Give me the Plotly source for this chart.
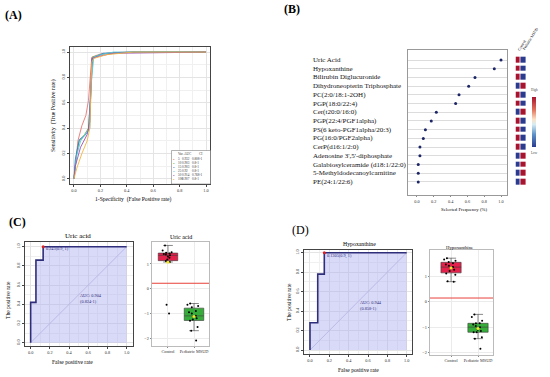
import numpy as np
import plotly.graph_objects as go

W, H = 550, 377
def px(x):
    return x / W
def py(y):
    return 1 - y / H

SERIF = "Liberation Serif"

# ---------------- Data ----------------
# Panel A: ROC curves of models built with different numbers of variables
roc_vars = ['5', '10', '15', '25', '50', '100']
roc_auc = ['0.932', '0.903', '0.903', '0.92', '0.914', '0.907']
roc_ci = ['0.808-1', '0.8-1', '0.8-1', '0.8-1', '0.768-1', '0.8-1']
roc_colors = ['#e8766f', '#62b84a', '#3b78c9', '#55c6d8', '#a04fb0', '#f2b440']
fpr_5 = [0, 0.01, 0.03, 0.06, 0.09, 0.11, 0.125, 0.135, 0.16, 0.2, 0.3, 0.4, 1]
tpr_5 = [0, 0.1, 0.3, 0.42, 0.5, 0.62, 0.8, 0.96, 0.97, 0.985, 0.995, 1, 1]
fpr_10 = [0, 0.02, 0.04, 0.08, 0.11, 0.13, 0.14, 0.2, 0.25, 0.45, 1]
tpr_10 = [0, 0.2, 0.3, 0.35, 0.4, 0.7, 0.96, 0.98, 0.99, 1, 1]
fpr_15 = [0, 0.01, 0.04, 0.08, 0.11, 0.125, 0.14, 0.18, 0.22, 0.45, 1]
tpr_15 = [0, 0.15, 0.31, 0.34, 0.38, 0.7, 0.95, 0.97, 0.99, 1, 1]
fpr_25 = [0, 0.02, 0.05, 0.09, 0.12, 0.13, 0.15, 0.2, 0.3, 1]
tpr_25 = [0, 0.18, 0.3, 0.36, 0.4, 0.75, 0.96, 0.98, 1, 1]
fpr_50 = [0, 0.01, 0.05, 0.1, 0.12, 0.135, 0.2, 0.3, 1]
tpr_50 = [0, 0.1, 0.25, 0.35, 0.45, 0.95, 0.97, 0.99, 1]
fpr_100 = [0, 0.02, 0.06, 0.1, 0.12, 0.135, 0.15, 0.25, 0.45, 1]
tpr_100 = [0, 0.08, 0.2, 0.3, 0.4, 0.92, 0.95, 0.98, 1, 1]
roc_fprs = [fpr_5, fpr_10, fpr_15, fpr_25, fpr_50, fpr_100]
roc_tprs = [tpr_5, tpr_10, tpr_15, tpr_25, tpr_50, tpr_100]

# Panel B: selected frequency of metabolites + group heatmap
metabolites = ['Uric Acid', 'Hypoxanthine', 'Bilirubin Diglucuronide',
               'Dihydroneopterin Triphosphate', 'PC(2:0/18:1-2OH)', 'PGP(18:0/22:4)',
               'Cer(t20:0/16:0)', 'PGP(22:4/PGF1alpha)', 'PS(6 keto-PGF1alpha/20:3)',
               'PG(16:0/PGF2alpha)', 'CerP(d16:1/2:0)', "Adenosine 3',5'-diphosphate",
               'Galabiosylceramide (d18:1/22:0)', '5-Methyldodecanoylcarnitine',
               'PE(24:1/22:6)']
sel_freq = [1.0, 0.92, 0.69, 0.615, 0.50, 0.46, 0.23, 0.17, 0.10, 0.075,
            0.035, 0.035, 0.015, 0.015, 0.015]
groups = ['Control', 'Pediatric MSUD']
heat_control = [1, 1, 1, 0, 1, 1, 0, 1, 1, 1, 1, 0, 0, 0, 0]
heat_msud = [0, 0, 0, 1, 0, 0, 1, 0, 0, 0, 0, 1, 1, 1, 1]

# Panel C: uric acid
uric_fpr = [0, 0, 0.055, 0.055, 0.13, 0.13, 1]
uric_tpr = [0, 0.42, 0.42, 0.86, 0.86, 1, 1]
uric_best = (0.13, 1.0)
uric_best_label = '0.243(0.9, 1)'
uric_auc_label = 'AUC: 0.904<br>(0.824-1)'
uric_control = [1.75, 1.55, 1.48, 1.45, 1.42, 1.40, 1.38, 1.35, 1.30, 1.25,
                1.18, 1.12, 1.08, -0.65, -1.0]
uric_msud = [-0.6, -0.65, -0.7, -0.75, -0.9, -0.95, -1.0, -1.1, -1.15, -1.2,
             -1.25, -1.3, -1.55, -1.7, -2.1]
uric_cut = 0.22

# Panel D: hypoxanthine
hypo_fpr = [0, 0, 0.08, 0.08, 0.148, 0.148, 1]
hypo_tpr = [0, 0.28, 0.28, 0.78, 0.78, 1, 1]
hypo_best = (0.148, 1.0)
hypo_best_label = '0.1305(0.9, 1)'
hypo_auc_label = 'AUC: 0.944<br>(0.858-1)'
hypo_control = [1.7, 1.65, 1.6, 1.55, 1.5, 1.45, 1.4, 1.35, 1.3, 1.25,
                1.2, 1.1, 1.05, 0.8, 0.78]
hypo_msud = [-0.5, -0.6, -0.75, -0.85, -0.85, -0.9, -0.95, -1.0, -1.1, -1.2,
             -1.2, -1.4, -1.45, -1.15, -1.85]
hypo_cut = 0.14

ticks01 = [0, 0.2, 0.4, 0.6, 0.8, 1.0]
ticks01_txt = ['0.0', '0.2', '0.4', '0.6', '0.8', '1.0']

fig = go.Figure()

# ---------------- Panel A ----------------
for v, f, t, c in zip(roc_vars, roc_fprs, roc_tprs, roc_colors):
    fig.add_trace(go.Scatter(x=f, y=t, mode='lines', line=dict(color=c, width=0.9),
                             xaxis='x', yaxis='y', showlegend=False, hoverinfo='skip'))

# ---------------- Panel B ----------------
rows = list(range(len(metabolites)))
fig.add_trace(go.Scatter(x=sel_freq, y=rows, mode='markers',
                         marker=dict(color='#1c2566', size=3),
                         xaxis='x2', yaxis='y2', showlegend=False))
zmat = [[a, b] for a, b in zip(heat_control, heat_msud)]
heat_scale = [[0, '#2b3b8f'], [0.25, '#5d93c9'], [0.45, '#d6ecf3'], [0.55, '#fbe3c8'],
              [0.75, '#e0705a'], [1, '#a8132e']]
fig.add_trace(go.Heatmap(z=zmat, x=[0, 1], y=rows, colorscale=heat_scale, zmin=0, zmax=1,
                         xgap=0.8, ygap=3, xaxis='x3', yaxis='y3',
                         colorbar=dict(x=px(532), xanchor='left', y=py(122), yanchor='middle',
                                       len=50, lenmode='pixels', thickness=4,
                                       thicknessmode='pixels', outlinewidth=0, xpad=0, ypad=0,
                                       showticklabels=False, ticks='')))

# ---------------- Panels C / D ROC ----------------
def add_roc(fpr, tpr, best, xa, ya):
    fig.add_trace(go.Scatter(x=[0, 1], y=[0, 1], mode='lines',
                             line=dict(color='#b9b9d9', width=0.8),
                             xaxis=xa, yaxis=ya, showlegend=False))
    fig.add_trace(go.Scatter(x=fpr, y=tpr, mode='lines', fill='tozeroy',
                             fillcolor='rgba(170,170,240,0.45)',
                             line=dict(color='#2e2e7a', width=1.6),
                             xaxis=xa, yaxis=ya, showlegend=False))
    fig.add_trace(go.Scatter(x=[best[0]], y=[best[1]], mode='markers',
                             marker=dict(color='#e02020', size=3),
                             xaxis=xa, yaxis=ya, showlegend=False))

add_roc(uric_fpr, uric_tpr, uric_best, 'x4', 'y4')
add_roc(hypo_fpr, hypo_tpr, hypo_best, 'x6', 'y6')

# ---------------- Panels C / D boxplots ----------------
def add_box(ctrl, msud, xa, ya, width):
    for i, (vals, col) in enumerate([(ctrl, '#e3214b'), (msud, '#36ad3a')]):
        fig.add_trace(go.Box(y=vals, x0=i, width=width, boxpoints='all', jitter=0.7,
                             pointpos=0, fillcolor=col,
                             line=dict(color='#3a3a3a', width=0.6),
                             marker=dict(color='black', size=2),
                             xaxis=xa, yaxis=ya, showlegend=False))
        fig.add_trace(go.Scatter(x=[i], y=[float(np.mean(vals))], mode='markers',
                                 marker=dict(color='#f3e62a', size=3),
                                 xaxis=xa, yaxis=ya, showlegend=False))

add_box(uric_control, uric_msud, 'x5', 'y5', 0.75)
add_box(hypo_control, hypo_msud, 'x7', 'y7', 0.75)

# ---------------- Layout ----------------
tickfont = dict(family=SERIF, size=4.3, color='#333')
def roc_axis(domain, rng, anchor, is_y=False):
    d = dict(domain=domain, range=rng, anchor=anchor, tickvals=ticks01, ticktext=ticks01_txt,
             showline=True, mirror=True, linecolor='#444', linewidth=0.8,
             ticks='outside', ticklen=2, tickwidth=0.5, tickcolor='#444',
             tickfont=tickfont, showgrid=True, gridcolor='#e4e4e4', gridwidth=0.5,
             zeroline=False, fixedrange=True,
             minor=dict(dtick=0.1, tick0=0, showgrid=True, gridcolor='#f0f0f0', ticks=''))
    if is_y:
        d['tickangle'] = -90
    return d

def box_axes(xdom, ydom, xr, yr, xa_name, ya_name):
    xa = dict(domain=xdom, range=xr, anchor=ya_name, tickvals=[0, 1], ticktext=groups,
              showline=True, mirror=True, linecolor='#bbb', linewidth=0.6,
              ticks='outside', ticklen=1.5, tickcolor='#888', tickfont=tickfont,
              showgrid=True, gridcolor='#ebebeb', zeroline=False)
    ya = dict(domain=ydom, range=yr, anchor=xa_name, tickvals=[-2, -1, 0, 1],
              showline=True, mirror=True, linecolor='#bbb', linewidth=0.6,
              ticks='outside', ticklen=1.5, tickcolor='#888', tickfont=tickfont,
              showgrid=True, gridcolor='#ebebeb', zeroline=False)
    return xa, ya

yB = [py(195), py(50)]
rngB = [15.5, -1.15]
x5, y5 = box_axes([px(152), px(209)], [py(346), py(242)], [-0.615, 1.577], [-2.32, 1.89], 'x5', 'y5')
x7, y7 = box_axes([px(430), px(493)], [py(355), py(250)], [-0.78, 1.556], [-2.09, 2.02], 'x7', 'y7')

fig.update_layout(
    width=W, height=H, margin=dict(l=0, r=0, t=0, b=0),
    paper_bgcolor='white', plot_bgcolor='white', showlegend=False,
    font=dict(family=SERIF),
    xaxis=roc_axis([px(70), px(210)], [-0.03, 1.03], 'y'),
    yaxis=roc_axis([py(184), py(47)], [-0.04, 1.04], 'x', True),
    xaxis2=dict(domain=[px(408), px(507)], range=[-0.107, 1.071], anchor='y2', tickvals=ticks01,
                ticktext=ticks01_txt, showline=True, mirror=True, linecolor='#999',
                linewidth=0.7, ticks='outside', ticklen=1.5, tickcolor='#888',
                tickfont=tickfont, showgrid=False, zeroline=False),
    yaxis2=dict(domain=yB, range=rngB, anchor='x2', tickvals=rows, showticklabels=False,
                showline=True, mirror=True, linecolor='#999', linewidth=0.7,
                showgrid=True, gridcolor='#dcdcdc', gridwidth=0.6, zeroline=False),
    xaxis3=dict(domain=[px(515.5), px(526)], range=[-0.5, 1.5], anchor='y3', visible=False),
    yaxis3=dict(domain=yB, range=rngB, anchor='x3', visible=False),
    xaxis4=roc_axis([px(25), px(133)], [-0.059, 1.066], 'y4'),
    yaxis4=roc_axis([py(346), py(242)], [-0.034, 1.049], 'x4', True),
    xaxis5=x5, yaxis5=y5,
    xaxis6=roc_axis([px(304), px(412)], [-0.062, 1.055], 'y6'),
    yaxis6=roc_axis([py(354), py(250)], [-0.041, 1.028], 'x6', True),
    xaxis7=x7, yaxis7=y7,
)

# Cut-off lines
for yref, xref, cut in [('y5', 'x5 domain', uric_cut), ('y7', 'x7 domain', hypo_cut)]:
    fig.add_shape(type='line', xref=xref, yref=yref, x0=0, x1=1, y0=cut, y1=cut,
                  line=dict(color='#e8403a', width=1))

ann = []
def A(x, y, text, size, **kw):
    d = dict(x=x, y=y, xref='paper', yref='paper', text=text, showarrow=False,
             font=dict(family=SERIF, size=size, color=kw.pop('color', 'black')))
    d.update(kw)
    ann.append(d)

# Panel labels
A(px(3), py(15), '<b>(A)</b>', 12, xanchor='left', yanchor='middle')
A(px(282), py(9), '<b>(B)</b>', 12, xanchor='left', yanchor='middle')
A(px(7), py(222), '<b>(C)</b>', 12, xanchor='left', yanchor='middle')
A(px(290), py(230), '(D)', 12, xanchor='left', yanchor='middle')

# Panel A axis titles
A(px(133), py(199.5), '1-Specificity  (False Positive rate)', 5.6, xanchor='center', yanchor='middle')
A(px(53), py(116), 'Sensitivity  (True Positive rate)', 5.8, xanchor='center', yanchor='middle',
  textangle=-90)

# Panel A legend (drawn manually)
fig.add_shape(type='rect', xref='paper', yref='paper', x0=px(171.5), x1=px(210.5),
              y0=py(184), y1=py(150.5), line=dict(color='#666', width=0.5),
              fillcolor='white')
A(px(176), py(154.5), 'Var. AUC', 3.4, xanchor='left', yanchor='middle', color='#333')
A(px(197), py(154.5), 'CI', 3.4, xanchor='left', yanchor='middle', color='#333')
for i, (v, a, c, col) in enumerate(zip(roc_vars, roc_auc, roc_ci, roc_colors)):
    yy = 159.3 + i * 4.0
    A(px(173.6), py(yy), '•', 4.5, xanchor='center', yanchor='middle', color=col)
    A(px(175.6), py(yy), v, 3.3, xanchor='left', yanchor='middle', color='#333')
    A(px(180), py(yy), a, 3.3, xanchor='left', yanchor='middle', color='#333')
    A(px(189.5), py(yy), c, 3.3, xanchor='left', yanchor='middle', color='#333')

# Panel B labels
for i, m in enumerate(metabolites):
    ann.append(dict(x=px(311), y=i, xref='paper', yref='y2', text=m, showarrow=False,
                    xanchor='left', yanchor='middle',
                    font=dict(family=SERIF, size=7, color='#111')))
A(px(463.5), py(209), 'Selected Frequency (%)', 4.8, xanchor='center', yanchor='middle')
A(px(521.5), py(45.5), groups[0], 3.8, xanchor='center', yanchor='middle', textangle=-58)
A(px(530.5), py(39), groups[1], 3.8, xanchor='center', yanchor='middle', textangle=-58)
A(px(534), py(90), 'High', 3.3, xanchor='center', yanchor='middle', color='#444')
A(px(534), py(153), 'Low', 3.3, xanchor='center', yanchor='middle', color='#444')

# Panel C
A(px(78), py(236), 'Uric acid', 7, xanchor='center', yanchor='middle')
A(px(72), py(362), 'False positive rate', 5.6, xanchor='center', yanchor='middle')
A(px(8), py(300), 'The positive rate', 5.6, xanchor='center', yanchor='middle', textangle=-90)
A(px(181), py(237), 'Uric acid', 6, xanchor='center', yanchor='middle')
ann.append(dict(x=0.14, y=0.975, xref='x4', yref='y4', text=uric_best_label, showarrow=False,
                xanchor='left', yanchor='middle', font=dict(family=SERIF, size=4.3, color='#2e2e7a')))
ann.append(dict(x=0.49, y=0.465, xref='x4', yref='y4', text=uric_auc_label, showarrow=False,
                xanchor='left', yanchor='middle', align='left',
                font=dict(family=SERIF, size=4.3, color='#2e2e7a')))

# Panel D
A(px(359), py(244), 'Hypoxanthine', 5.8, xanchor='center', yanchor='middle')
A(px(358), py(370), 'False positive rate', 5.6, xanchor='center', yanchor='middle')
A(px(289), py(302), 'The positive rate', 5.6, xanchor='center', yanchor='middle', textangle=-90)
A(px(460), py(247), 'Hypoxanthine', 4.8, xanchor='center', yanchor='middle')
ann.append(dict(x=0.155, y=0.97, xref='x6', yref='y6', text=hypo_best_label, showarrow=False,
                xanchor='left', yanchor='middle', font=dict(family=SERIF, size=4.3, color='#2e2e7a')))
ann.append(dict(x=0.5, y=0.46, xref='x6', yref='y6', text=hypo_auc_label, showarrow=False,
                xanchor='left', yanchor='middle', align='left',
                font=dict(family=SERIF, size=4.3, color='#2e2e7a')))

fig.update_layout(annotations=ann)
fig.write_html("out.html", config={'displayModeBar': False},
               post_script="document.body.style.margin='0';document.body.style.padding='0';")
